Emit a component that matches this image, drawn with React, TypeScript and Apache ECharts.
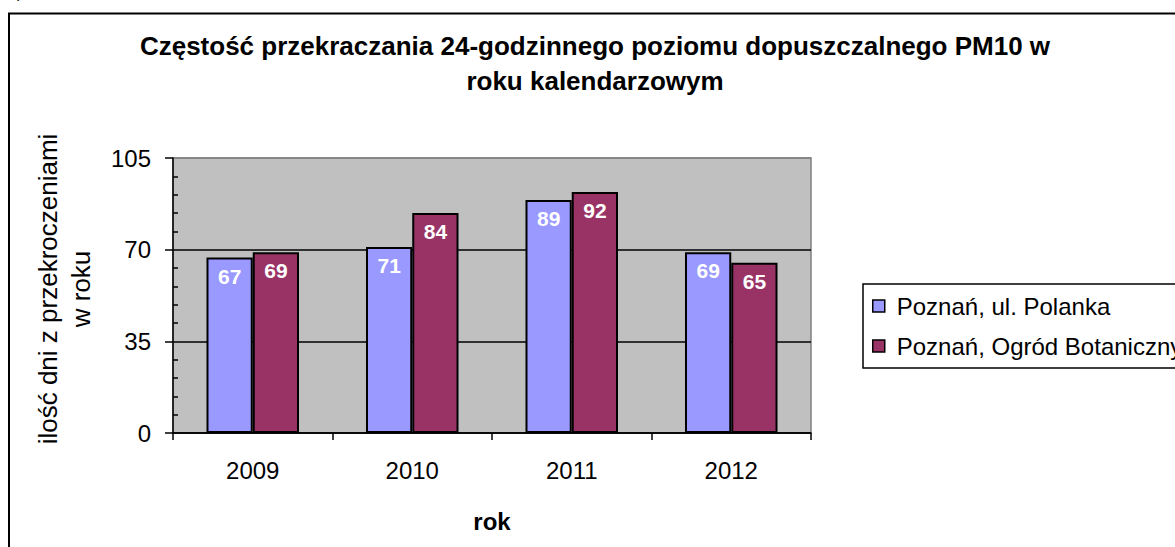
import React, { useEffect, useRef } from "react";
import * as echarts from "echarts";

const categories = ["2009", "2010", "2011", "2012"];
const polanka = [67, 71, 89, 69];
const botaniczny = [69, 84, 92, 65];
const seriesNames = ["Poznań, ul. Polanka", "Poznań, Ogród Botaniczny"];
const titleText = "Częstość przekraczania 24-godzinnego poziomu dopuszczalnego PM10 w\nroku kalendarzowym";
const yName = "ilość dni z przekroczeniami\nw roku";
const xName = "rok";

const FONT = 'Arial, "Liberation Sans", sans-serif';

export default function App() {
  const ref = useRef<HTMLDivElement>(null);
  useEffect(() => {
    if (!ref.current) return;
    const chart = echarts.init(ref.current, undefined, { renderer: "svg" });
    const yCommon = { type: "value", min: 0, max: 105, interval: 35 };
    chart.setOption({
      animation: false,
      backgroundColor: "#ffffff",
      title: {
        text: titleText,
        left: 590,
        textAlign: "center",
        top: 23,
        textStyle: { fontFamily: FONT, fontWeight: "bold", fontSize: 26, color: "#000", lineHeight: 35 },
      },
      legend: {
        orient: "vertical",
        left: 863,
        top: 284,
        padding: [10, 12, 10, 9],
        itemGap: 16,
        itemWidth: 12,
        itemHeight: 12,
        borderColor: "#000",
        borderWidth: 1.5,
        icon: "rect",
        itemStyle: { borderColor: "#000", borderWidth: 1.5 },
        textStyle: { fontFamily: FONT, fontSize: 24, color: "#000", padding: [0, 0, 0, 7] },
        data: seriesNames,
      },
      grid: {
        left: 173,
        top: 158,
        right: 364,
        bottom: 114,
        show: true,
        backgroundColor: "#C0C0C0",
        borderColor: "#808080",
        borderWidth: 1.5,
      },
      xAxis: {
        type: "category",
        data: categories,
        name: xName,
        nameLocation: "middle",
        nameGap: 76,
        nameTextStyle: { fontFamily: FONT, fontWeight: "bold", fontSize: 24, color: "#000" },
        axisLine: { lineStyle: { color: "#000", width: 1.5 } },
        axisTick: { show: true, length: 7, alignWithLabel: false, lineStyle: { color: "#000", width: 1.5 } },
        axisLabel: { fontFamily: FONT, fontSize: 24, color: "#000", margin: 25 },
      },
      yAxis: [
        {
          ...yCommon,
          axisLine: { show: true, lineStyle: { color: "#000", width: 1.5 } },
          axisTick: { show: true, length: 8, lineStyle: { color: "#000", width: 1.5 } },
          axisLabel: { fontFamily: FONT, fontSize: 24, color: "#000", margin: 22 },
          splitLine: { show: true, lineStyle: { color: ["#000", "#000", "#000", "#808080"], width: 1.5 } },
        },
        {
          ...yCommon,
          position: "left",
          axisLine: { show: false },
          axisTick: { show: false, inside: true },
          minorTick: { show: true, splitNumber: 5, length: 5, lineStyle: { color: "#000", width: 1.5 } },
          axisLabel: { show: false },
          splitLine: { show: false },
        },
      ],
      graphic: [
        {
          type: "text",
          left: 17,
          top: -16,
          style: { text: ")", fontFamily: FONT, fontSize: 16, fill: "#000" },
        },
        {
          type: "rect",
          shape: { x: 9, y: 13.5, width: 1300, height: 700 },
          style: { fill: "none", stroke: "#000", lineWidth: 2 },
          silent: true,
        },
        {
          type: "text",
          x: 64,
          y: 289,
          rotation: Math.PI / 2,
          style: {
            text: yName,
            fontFamily: FONT,
            fontSize: 26,
            fill: "#000",
            align: "center",
            verticalAlign: "middle",
            lineHeight: 33,
          },
        },
      ],
      series: [
        {
          name: seriesNames[0],
          type: "bar",
          data: polanka,
          barGap: "0%",
          barCategoryGap: "42%",
          itemStyle: { color: "#9999FF", borderColor: "#000", borderWidth: 2 },
          label: {
            show: true,
            position: "insideTop",
            distance: 8,
            fontFamily: FONT,
            fontWeight: "bold",
            fontSize: 21,
            color: "#fff",
          },
        },
        {
          name: seriesNames[1],
          type: "bar",
          data: botaniczny,
          itemStyle: { color: "#993366", borderColor: "#000", borderWidth: 2 },
          label: {
            show: true,
            position: "insideTop",
            distance: 8,
            fontFamily: FONT,
            fontWeight: "bold",
            fontSize: 21,
            color: "#fff",
          },
        },
      ],
    });
    return () => chart.dispose();
  }, []);
  return (
    <div
      ref={ref}
      style={{ position: "fixed", left: 0, top: 0, width: 1175, height: 547 }}
    />
  );
}
